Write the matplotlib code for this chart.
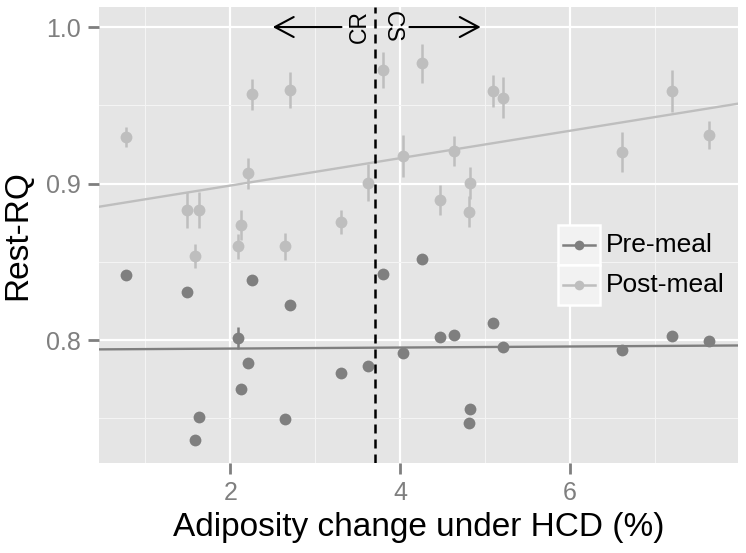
import numpy as np
import matplotlib
matplotlib.use("Agg")
import matplotlib.pyplot as plt
from matplotlib.patches import Rectangle
from matplotlib.lines import Line2D

plt.rcParams['font.family'] = ['Liberation Sans', 'DejaVu Sans']

# ---- data ----
adiposity = [0.776, 1.496, 1.626, 1.587, 2.086, 2.126, 2.204, 2.260, 2.700, 2.649,
             3.306, 3.620, 3.798, 4.033, 4.260, 4.466, 4.631, 4.828, 4.812, 5.095,
             5.213, 6.615, 7.200, 7.640]
pre_meal = [0.8415, 0.8307, 0.7506, 0.7361, 0.8015, 0.7685, 0.7851, 0.8383, 0.8226, 0.7497,
            0.7787, 0.7834, 0.8424, 0.7919, 0.8516, 0.8017, 0.8030, 0.7559, 0.7472, 0.8107,
            0.7953, 0.7936, 0.8027, 0.7994]
pre_err = [0.003, 0.003, 0.003, 0.003, 0.007, 0.003, 0.003, 0.003, 0.003, 0.003,
           0.003, 0.003, 0.003, 0.003, 0.003, 0.003, 0.003, 0.003, 0.003, 0.003,
           0.003, 0.003, 0.003, 0.003]
post_meal = [0.930, 0.883, 0.883, 0.8537, 0.860, 0.8735, 0.9065, 0.957, 0.960, 0.860,
             0.8756, 0.9005, 0.9725, 0.9176, 0.9768, 0.8895, 0.921, 0.9005, 0.882, 0.9593,
             0.9548, 0.9203, 0.9593, 0.9312]
post_err = [0.0064, 0.0114, 0.0114, 0.0077, 0.008, 0.0098, 0.0099, 0.010, 0.0115, 0.0086,
            0.0077, 0.0117, 0.0117, 0.0133, 0.0124, 0.0094, 0.0095, 0.0101, 0.0101, 0.0101,
            0.013, 0.0128, 0.0135, 0.009]
series_names = ["Pre-meal", "Post-meal"]
threshold = 3.71
x_ticks = [2, 4, 6]
y_ticks = [0.8, 0.9, 1.0]
x_label = "Adiposity change under HCD (%)"
y_label = "Rest-RQ"

PRE_C = "#7f7f7f"
POST_C = "#bebebe"
TXT_C = "#7f7f7f"

fig = plt.figure(figsize=(7.46, 5.53), dpi=100)
ax = fig.add_axes([99/746, 90/553, 639/746, 456/553])
ax.set_facecolor("#e5e5e5")
for s in ax.spines.values():
    s.set_visible(False)

xlim = (0.454, 7.98)
ax.set_xlim(*xlim)
ax.set_ylim(0.7214, 1.0128)

ax.set_xticks(x_ticks)
ax.set_yticks(y_ticks)
ax.set_xticklabels([str(v) for v in x_ticks])
ax.set_yticklabels(["%.1f" % v for v in y_ticks])
ax.set_xticks([1, 3, 5, 7], minor=True)
ax.set_yticks([0.75, 0.85, 0.95], minor=True)
ax.grid(which="major", color="white", linewidth=1.6)
ax.grid(which="minor", color="#f4f4f4", linewidth=0.8)
ax.set_axisbelow(True)
ax.tick_params(which="major", length=8, width=2.0, color=TXT_C, labelcolor=TXT_C,
               labelsize=18, pad=5)
ax.tick_params(which="minor", length=0)

x = np.array(adiposity)
xs = np.array(xlim)
for y, e, c in [(pre_meal, pre_err, PRE_C), (post_meal, post_err, POST_C)]:
    y = np.array(y)
    b, a = np.polyfit(x, y, 1)
    ax.plot(xs, a + b * xs, color=c, lw=1.7, zorder=2)
    ax.errorbar(x, y, yerr=e, fmt="o", color=c, ms=8.5, elinewidth=1.8,
                capsize=0, mew=0, zorder=3)

ax.axvline(threshold, color="black", lw=1.8, dashes=(3.6, 2.4), zorder=4)

# annotation arrows and labels
arrow_kw = dict(arrowstyle="->,head_length=0.75,head_width=0.4", color="black",
                lw=1.5, mutation_scale=18, shrinkA=0, shrinkB=0)
ax.annotate("", xy=(2.5, 1.0), xytext=(3.31, 1.0), arrowprops=arrow_kw, zorder=5)
ax.annotate("", xy=(4.95, 1.0), xytext=(4.11, 1.0), arrowprops=arrow_kw, zorder=5)
ax.text(3.52, 1.0, "CR", rotation=90, ha="center", va="center", fontsize=16.5, zorder=5)
ax.text(3.91, 1.0, "CS", rotation=270, ha="center", va="center", fontsize=16.5, zorder=5)

ax.set_xlabel(x_label, fontsize=24, labelpad=5)
ax.set_ylabel(y_label, fontsize=24, labelpad=9)

# legend (ggplot style keys)
def px2ax(px, py):
    return ((px - 99) / 639, (463 - py) / 456)

for i, (name, c) in enumerate(zip(series_names, [PRE_C, POST_C])):
    top = 225 + i * 40
    x0, y1 = px2ax(558, top)
    x1, y0 = px2ax(600, top + 40)
    ax.add_patch(Rectangle((x0, y0), x1 - x0, y1 - y0, transform=ax.transAxes,
                           facecolor="#f2f2f2", edgecolor="white", lw=1.8, zorder=6))
    yc = (y0 + y1) / 2
    lx0, _ = px2ax(563, 0)
    lx1, _ = px2ax(595, 0)
    ax.add_line(Line2D([lx0, lx1], [yc, yc], transform=ax.transAxes, color=c, lw=1.8, zorder=7))
    ax.add_line(Line2D([(lx0 + lx1) / 2], [yc], transform=ax.transAxes, color=c,
                       marker="o", ms=7, mew=0, zorder=8))
    tx, _ = px2ax(606, 0)
    ax.text(tx, yc, name, transform=ax.transAxes, ha="left", va="center",
            fontsize=19, color="black", zorder=8)

fig.savefig("out.png", dpi=100)
